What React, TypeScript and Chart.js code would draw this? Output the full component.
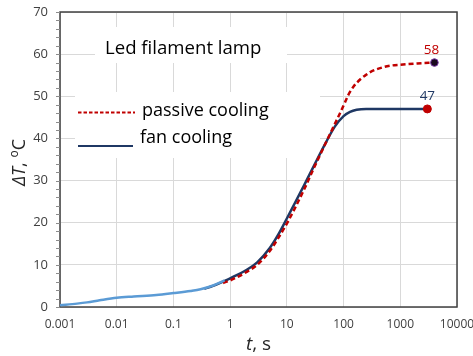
import React, { useEffect, useRef } from "react";
import { Chart, registerables } from "chart.js";

Chart.register(...registerables);

// ---- data ----
const earlyT = [0.001, 0.002, 0.003, 0.005, 0.01, 0.02, 0.05, 0.1, 0.2, 0.3, 0.5, 0.8];
const earlyY = [0.4, 0.8, 1.1, 1.6, 2.2, 2.5, 2.85, 3.3, 3.8, 4.2, 5.1, 6.3];

const fanT = [0.35, 0.5, 0.8, 1, 2, 3, 5, 7, 10, 20, 30, 50, 70, 100, 130, 170, 250, 500, 1000, 3000];
const fanY = [4.3, 5.0, 6.2, 6.8, 8.9, 10.6, 14.0, 17.1, 21.0, 28.8, 33.5, 39.3, 42.8, 45.3, 46.3, 46.8, 47.0, 47.0, 47.0, 47.0];

const passiveT = [0.75, 1, 2, 3, 5, 7, 10, 20, 30, 50, 70, 100, 120, 150, 200, 250, 300, 500, 700, 1000, 2000, 4000];
const passiveY = [5.7, 6.3, 8.4, 10.0, 13.3, 16.3, 19.8, 27.8, 33.0, 39.3, 43.4, 47.8, 50.2, 52.3, 54.1, 55.1, 55.8, 56.9, 57.3, 57.5, 57.8, 58.0];

const endT = [3000, 4000];
const endY = [47, 58];
const endLabels = ["47", "58"];

const xTicks = [0.001, 0.01, 0.1, 1, 10, 100, 1000, 10000];
const xTickLabels = ["0.001", "0.01", "0.1", "1", "10", "100", "1000", "10000"];
const yMin = 0;
const yMax = 70;
const yStep = 10;
const yMinorStep = 2;

const titleText = "Led filament lamp";
const legendNames = ["passive cooling", "fan cooling"];

const RED = "#C00000";
const NAVY = "#1F3864";
const LIGHT = "#5B9BD5";
const FONT = '"Open Sans", "DejaVu Sans", sans-serif';

const toPts = (t: number[], y: number[]) => t.map((v, i) => ({ x: v, y: y[i] }));

const decor = {
  id: "decor",
  beforeDatasetsDraw(chart: any) {
    const { ctx, chartArea: a } = chart;
    ctx.save();
    // white text boxes hiding grid
    ctx.fillStyle = "#ffffff";
    ctx.fillRect(a.left + 35, a.top + 15, 192, 36);
    ctx.fillRect(a.left + 15, a.top + 80, 245, 66);
    // plot border
    ctx.strokeStyle = "#404040";
    ctx.lineWidth = 1.5;
    ctx.strokeRect(a.left, a.top, a.right - a.left, a.bottom - a.top);
    // minor ticks on y axis
    const ys = chart.scales.y;
    ctx.strokeStyle = "#8c8c8c";
    ctx.lineWidth = 1;
    for (let v = yMin; v <= yMax; v += yMinorStep) {
      const py = Math.round(ys.getPixelForValue(v)) + 0.5;
      ctx.beginPath();
      ctx.moveTo(a.left - 4, py);
      ctx.lineTo(a.left, py);
      ctx.stroke();
    }
    // title
    ctx.fillStyle = "#000000";
    ctx.font = `18.6px ${FONT}`;
    ctx.textBaseline = "alphabetic";
    ctx.textAlign = "left";
    ctx.fillText(titleText, a.left + 45, a.top + 42);
    // legend
    ctx.strokeStyle = RED;
    ctx.lineWidth = 2;
    ctx.setLineDash([3.5, 2]);
    ctx.beginPath();
    ctx.moveTo(a.left + 18, a.top + 100.5);
    ctx.lineTo(a.left + 75, a.top + 100.5);
    ctx.stroke();
    ctx.setLineDash([]);
    ctx.strokeStyle = NAVY;
    ctx.lineWidth = 2;
    ctx.beginPath();
    ctx.moveTo(a.left + 18, a.top + 134);
    ctx.lineTo(a.left + 73, a.top + 134);
    ctx.stroke();
    ctx.fillStyle = "#000000";
    ctx.font = `18px ${FONT}`;
    ctx.fillText(legendNames[0], a.left + 82, a.top + 104);
    ctx.fillText(legendNames[1], a.left + 80, a.top + 131);
    ctx.restore();
  },
  afterDatasetsDraw(chart: any) {
    const { ctx, scales } = chart;
    ctx.save();
    ctx.font = `13.5px ${FONT}`;
    ctx.textAlign = "center";
    ctx.textBaseline = "alphabetic";
    const colors = [NAVY, RED];
    const dx = [0, -3];
    endT.forEach((t, i) => {
      const px = scales.x.getPixelForValue(t);
      const py = scales.y.getPixelForValue(endY[i]);
      ctx.fillStyle = colors[i];
      ctx.fillText(endLabels[i], px + dx[i], py - 9);
    });
    ctx.restore();
  },
  afterDraw(chart: any) {
    const { ctx, chartArea: a } = chart;
    ctx.save();
    ctx.fillStyle = "#262626";
    ctx.textBaseline = "alphabetic";
    ctx.textAlign = "left";
    // x title: "t, s"
    const cx = (a.left + a.right) / 2;
    ctx.font = `italic 19px ${FONT}`;
    const w1 = ctx.measureText("t").width;
    ctx.font = `19px ${FONT}`;
    const w2 = ctx.measureText(", s").width;
    const x0 = cx - (w1 + w2) / 2;
    ctx.font = `italic 19px ${FONT}`;
    ctx.fillText("t", x0, 350);
    ctx.font = `19px ${FONT}`;
    ctx.fillText(", s", x0 + w1, 350);
    // y title: "ΔT, ºC"
    const cy = (a.top + a.bottom) / 2 + 3;
    ctx.translate(25, cy);
    ctx.rotate(-Math.PI / 2);
    ctx.font = `italic 18px ${FONT}`;
    const a1 = ctx.measureText("ΔT").width;
    ctx.font = `18px ${FONT}`;
    const a2 = ctx.measureText(", ").width;
    ctx.font = `12px ${FONT}`;
    const a3 = ctx.measureText("o").width;
    ctx.font = `18px ${FONT}`;
    const a4 = ctx.measureText("C").width;
    let s = -(a1 + a2 + a3 + a4) / 2;
    ctx.font = `italic 18px ${FONT}`;
    ctx.fillText("ΔT", s, 0);
    s += a1;
    ctx.font = `18px ${FONT}`;
    ctx.fillText(", ", s, 0);
    s += a2;
    ctx.font = `12px ${FONT}`;
    ctx.fillText("o", s, -7);
    s += a3;
    ctx.font = `18px ${FONT}`;
    ctx.fillText("C", s, 0);
    ctx.restore();
  },
};

export default function App() {
  const ref = useRef<HTMLCanvasElement | null>(null);
  useEffect(() => {
    if (!ref.current) return;
    const chart = new Chart(ref.current, {
      type: "line",
      data: {
        datasets: [
          {
            label: "end",
            data: toPts(endT, endY),
            showLine: false,
            pointRadius: [4, 3.8],
            pointBackgroundColor: [RED, "#1a0a1e"],
            pointBorderColor: [RED, "#7030A0"],
            pointBorderWidth: 1,
          },
          {
            label: "early",
            data: toPts(earlyT, earlyY),
            borderColor: LIGHT,
            borderWidth: 2.5,
            pointRadius: 0,
            cubicInterpolationMode: "monotone",
          },
          {
            label: legendNames[0],
            data: toPts(passiveT, passiveY),
            borderColor: RED,
            borderWidth: 2.5,
            borderDash: [5, 3],
            pointRadius: 0,
            cubicInterpolationMode: "monotone",
          },
          {
            label: legendNames[1],
            data: toPts(fanT, fanY),
            borderColor: NAVY,
            borderWidth: 2.5,
            pointRadius: 0,
            cubicInterpolationMode: "monotone",
          },
        ],
      },
      options: {
        animation: false,
        responsive: false,
        devicePixelRatio: 1,
        layout: { padding: { left: 0, right: 16, top: 12, bottom: 0 } },
        plugins: { legend: { display: false }, tooltip: { enabled: false } },
        scales: {
          x: {
            type: "logarithmic",
            min: xTicks[0],
            max: xTicks[xTicks.length - 1],
            border: { display: false },
            grid: { color: "#d9d9d9", lineWidth: 1, drawTicks: false },
            ticks: {
              color: "#404040",
              font: { family: FONT, size: 12 },
              padding: 10,
              maxRotation: 0,
              autoSkip: false,
              callback: (v: any) => {
                const i = xTicks.findIndex((t) => Math.abs(Math.log10(t) - Math.log10(Number(v))) < 1e-6);
                return i >= 0 ? xTickLabels[i] : "";
              },
            },
            afterBuildTicks: (scale: any) => {
              scale.ticks = xTicks.map((v) => ({ value: v }));
            },
            afterFit: (scale: any) => {
              scale.height = 49;
              scale.paddingLeft = 0;
              scale.paddingRight = 0;
            },
          },
          y: {
            type: "linear",
            min: yMin,
            max: yMax,
            border: { display: false },
            grid: { color: "#d9d9d9", lineWidth: 1, drawTicks: false },
            ticks: {
              stepSize: yStep,
              color: "#404040",
              font: { family: FONT, size: 13 },
              padding: 12,
            },
            afterFit: (scale: any) => {
              scale.width = 60;
              scale.paddingTop = 0;
              scale.paddingBottom = 0;
            },
          },
        },
      },
      plugins: [decor],
    });
    return () => chart.destroy();
  }, []);
  return (
    <div style={{ position: "fixed", left: 0, top: 0, width: 473, height: 356, background: "#fff" }}>
      <canvas ref={ref} width={473} height={356} />
    </div>
  );
}
